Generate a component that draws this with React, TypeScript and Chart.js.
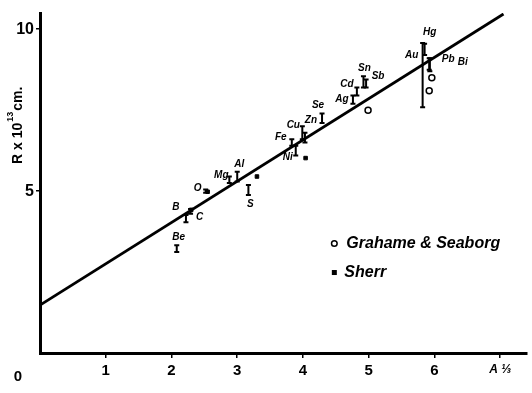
import React, { useEffect, useRef } from 'react';
import { Chart, registerables } from 'chart.js';

Chart.register(...registerables);

// Main data (element, A^(1/3), radius R x 10^13 cm, error range)
const elements = ['Be', 'B', 'C', 'O', 'Mg', 'Al', 'S', 'Fe', 'Ni', 'Cu', 'Zn', 'Se', 'Ag', 'Cd', 'Sn', 'Sb', 'Au', 'Hg', 'Pb', 'Bi'];
const aThird = [2.08, 2.22, 2.29, 2.52, 2.88, 3.0, 3.17, 3.83, 3.89, 3.99, 4.03, 4.29, 4.76, 4.82, 4.92, 4.96, 5.82, 5.85, 5.92, 5.93];
const radius = [3.22, 4.15, 4.38, 5.0, 5.35, 5.45, 5.03, 6.5, 6.25, 6.85, 6.65, 7.25, 7.82, 8.08, 8.4, 8.3, 8.9, 9.38, 8.95, 8.9];
const errLow = [3.12, 4.04, 4.3, 4.95, 5.25, 5.3, 4.88, 6.4, 6.1, 6.6, 6.5, 7.1, 7.7, 7.95, 8.2, 8.2, 7.59, 9.2, 8.75, 8.7];
const errHigh = [3.33, 4.26, 4.45, 5.05, 5.45, 5.6, 5.19, 6.6, 6.4, 7.0, 6.8, 7.4, 7.95, 8.2, 8.55, 8.45, 9.57, 9.55, 9.1, 9.1];
// label placement relative to each element's point (pixels)
const labelOffsets = [[2, -11], [-10, -11], [9, 6], [-8, -3], [-8, -5], [2, -12], [2, 14], [-11, -5], [-8, 7], [-9, -6], [6, -17], [-4, -13], [-11, -1], [-10, -7], [1, -13], [12, -8], [-11, -10], [5, -17], [19, -4], [33, -3]];

// Grahame & Seaborg (open circles)
const grahameX = [4.99, 5.96, 5.92];
const grahameY = [7.5, 8.5, 8.1];

// Sherr (filled marks)
const sherrX = [2.3, 2.55, 3.3, 4.04];
const sherrY = [4.42, 4.98, 5.45, 6.02];

// Fitted straight line
const fitX = [0, 7.05];
const fitY = [1.48, 10.47];

const xTicks = [1, 2, 3, 4, 5, 6, 7];
const yTicks = [5, 10];

const FONT = '"Liberation Sans", "DejaVu Sans", sans-serif';

const overlay = {
  id: 'overlay',
  afterDatasetsDraw(chart: any) {
    const ctx = chart.ctx;
    const xs = chart.scales.x;
    const ys = chart.scales.y;
    const area = chart.chartArea;
    ctx.save();
    ctx.strokeStyle = '#000';
    ctx.fillStyle = '#000';
    // error bars
    for (let i = 0; i < elements.length; i++) {
      const px = xs.getPixelForValue(aThird[i]);
      const lo = ys.getPixelForValue(errLow[i]);
      const hi = ys.getPixelForValue(errHigh[i]);
      ctx.lineWidth = 2;
      ctx.beginPath();
      ctx.moveTo(px, lo);
      ctx.lineTo(px, hi);
      ctx.moveTo(px - 2.5, lo);
      ctx.lineTo(px + 2.5, lo);
      ctx.moveTo(px - 2.5, hi);
      ctx.lineTo(px + 2.5, hi);
      ctx.stroke();
    }
    // element labels
    ctx.font = `italic bold 10px ${FONT}`;
    ctx.textAlign = 'center';
    ctx.textBaseline = 'middle';
    for (let i = 0; i < elements.length; i++) {
      const px = xs.getPixelForValue(aThird[i]);
      const py = ys.getPixelForValue(radius[i]);
      ctx.fillText(elements[i], px + labelOffsets[i][0], py + labelOffsets[i][1]);
    }
    // legend
    const lx = area.left + (area.right - area.left) * 0.605;
    const ly1 = area.top + (area.bottom - area.top) * 0.678;
    const ly2 = ly1 + 29;
    ctx.lineWidth = 1.5;
    ctx.fillStyle = '#fff';
    ctx.beginPath();
    ctx.arc(lx, ly1, 2.8, 0, Math.PI * 2);
    ctx.fill();
    ctx.stroke();
    ctx.fillStyle = '#000';
    ctx.fillRect(lx - 2.5, ly2 - 2.5, 5, 5);
    ctx.font = `italic bold 16px ${FONT}`;
    ctx.textAlign = 'left';
    ctx.fillText('Grahame & Seaborg', lx + 12, ly1);
    ctx.fillText('Sherr', lx + 10, ly2);
    // origin label
    ctx.font = `bold 15px ${FONT}`;
    ctx.textAlign = 'center';
    ctx.fillText('0', 18, xs.bottom - 16);
    // y axis title
    ctx.translate(18, (area.top + area.bottom) / 2 - 63);
    ctx.rotate(-Math.PI / 2);
    ctx.textAlign = 'left';
    ctx.font = `bold 14px ${FONT}`;
    const base = 'R x 10';
    const w0 = ctx.measureText(base).width;
    const startX = -44;
    ctx.fillText(base, startX, 0);
    ctx.font = `bold 9px ${FONT}`;
    ctx.fillText('13', startX + w0 + 1, -7);
    const w1 = ctx.measureText('13').width;
    ctx.font = `bold 14px ${FONT}`;
    ctx.fillText('cm.', startX + w0 + w1 + 2, 0);
    ctx.restore();
  },
};

export default function App() {
  const ref = useRef<HTMLCanvasElement>(null);
  useEffect(() => {
    document.body.style.margin = '0';
    const canvas = ref.current;
    if (!canvas) return;
    const chart = new Chart(canvas, {
      type: 'scatter',
      data: {
        datasets: [
          {
            type: 'line',
            data: fitX.map((x, i) => ({ x, y: fitY[i] })),
            borderColor: '#000',
            borderWidth: 2.8,
            pointRadius: 0,
            fill: false,
          } as any,
          {
            data: aThird.map((x, i) => ({ x, y: radius[i] })),
            pointRadius: 0,
            showLine: false,
          },
          {
            data: grahameX.map((x, i) => ({ x, y: grahameY[i] })),
            pointStyle: 'circle',
            pointRadius: 3,
            backgroundColor: '#fff',
            borderColor: '#000',
            borderWidth: 1.5,
          },
          {
            data: sherrX.map((x, i) => ({ x, y: sherrY[i] })),
            pointStyle: 'rect',
            pointRadius: 2.5,
            backgroundColor: '#000',
            borderColor: '#000',
            borderWidth: 1,
          },
        ],
      },
      options: {
        animation: false,
        responsive: true,
        maintainAspectRatio: false,
        layout: { padding: { top: 13, right: 1, left: 0, bottom: 0 } },
        plugins: { legend: { display: false }, tooltip: { enabled: false } },
        scales: {
          x: {
            type: 'linear',
            min: 0,
            max: 7.4,
            afterBuildTicks: (s: any) => {
              s.ticks = xTicks.map((v) => ({ value: v }));
            },
            afterFit: (s: any) => {
              s.height = 40;
            },
            border: { color: '#000', width: 3 },
            grid: { drawOnChartArea: false, color: '#000', tickLength: 5, lineWidth: 1.5 },
            ticks: {
              color: '#000',
              padding: 4,
              maxRotation: 0,
              font: (c: any) =>
                c.tick && c.tick.value === 7
                  ? { family: FONT, size: 12, weight: 'bold', style: 'italic' }
                  : { family: FONT, size: 15, weight: 'bold' },
              callback: (v: any) => (v === 7 ? 'A ⅓' : String(v)),
            },
          },
          y: {
            type: 'linear',
            min: 0,
            max: 10.5,
            afterBuildTicks: (s: any) => {
              s.ticks = yTicks.map((v) => ({ value: v }));
            },
            afterFit: (s: any) => {
              s.width = 40;
            },
            border: { color: '#000', width: 3 },
            grid: { drawOnChartArea: false, color: '#000', tickLength: 4, lineWidth: 1.5 },
            ticks: {
              color: '#000',
              padding: 2,
              font: { family: FONT, size: 16, weight: 'bold' },
            },
          },
        },
      },
      plugins: [overlay],
    });
    return () => chart.destroy();
  }, []);
  return (
    <div style={{ width: 532, height: 393, position: 'relative', background: '#fff' }}>
      <canvas ref={ref} />
    </div>
  );
}
